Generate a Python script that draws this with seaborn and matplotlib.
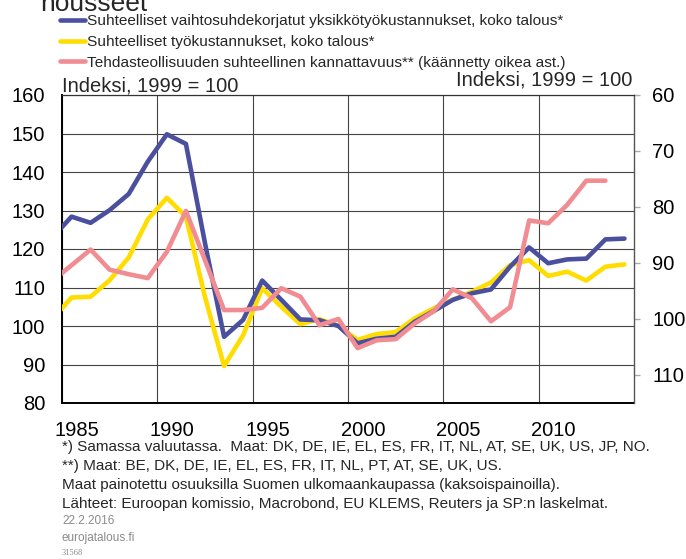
import numpy as np
import pandas as pd
import matplotlib
matplotlib.use("Agg")
import matplotlib.pyplot as plt
import seaborn as sns
from matplotlib.transforms import ScaledTranslation
from matplotlib.lines import Line2D

# ---- data ----
years = list(range(1984, 2015))
ulc_relative = [123.0, 128.4, 126.8, 130.1, 134.3, 142.7, 149.8, 147.3, 121.5, 97.2,
                101.6, 111.8, 106.8, 101.7, 101.5, 100.0, 95.5, 96.7, 97.2, 101.1,
                103.9, 106.8, 108.5, 109.5, 115.4, 120.4, 116.3, 117.3, 117.5, 122.5,
                122.7]
labour_cost_relative = [101.8, 107.4, 107.6, 111.9, 117.8, 127.7, 133.3, 128.4, 107.5, 89.6,
                        97.6, 109.8, 105.0, 100.5, 101.8, 100.0, 96.4, 97.9, 98.4, 102.0,
                        104.6, 106.8, 108.9, 111.3, 115.8, 117.1, 113.0, 114.1, 111.8, 115.4,
                        116.0]
profitability_inv = [93.2, 90.4, 87.6, 91.2, 92.0, 92.7, 88.0, 80.7, 89.5, 98.4,
                     98.4, 98.0, 94.5, 96.0, 101.1, 100.0, 105.2, 103.8, 103.6, 100.8,
                     98.6, 94.7, 96.3, 100.4, 97.9, 82.4, 82.9, 79.6, 75.3, 75.3,
                     np.nan]

series_labels = [
    "Suhteelliset vaihtosuhdekorjatut yksikkötyökustannukset, koko talous*",
    "Suhteelliset työkustannukset, koko talous*",
    "Tehdasteollisuuden suhteellinen kannattavuus** (käännetty oikea ast.)",
]
left_ticks = [80, 90, 100, 110, 120, 130, 140, 150, 160]
right_ticks = [60, 70, 80, 90, 100, 110]
x_ticks = [1985, 1990, 1995, 2000, 2005, 2010]

footnotes = [
    "*) Samassa valuutassa.  Maat: DK, DE, IE, EL, ES, FR, IT, NL, AT, SE, UK, US, JP, NO.",
    "**) Maat: BE, DK, DE, IE, EL, ES, FR, IT, NL, PT, AT, SE, UK, US.",
    "Maat painotettu osuuksilla Suomen ulkomaankaupassa (kaksoispainoilla).",
    "Lähteet: Euroopan komissio, Macrobond, EU KLEMS, Reuters ja SP:n laskelmat.",
]

df = pd.DataFrame({
    "x": [y + 0.5 for y in years],
    "blue": ulc_relative,
    "yellow": labour_cost_relative,
    "pink": profitability_inv,
})

sns.set_theme(style="white")
plt.rcParams["font.family"] = ["Liberation Sans", "DejaVu Sans"]

c_blue = "#4A509E"
c_yellow = "#FFDD00"
c_pink = "#F08C92"
lw = 3.3

fig = plt.figure(figsize=(6.86, 5.59), dpi=100)
ax = fig.add_axes([62/686, 1-403/559, (634-62)/686, (403-95)/559])
ax2 = ax.twinx()

sns.lineplot(data=df, x="x", y="yellow", ax=ax, color=c_yellow, lw=lw, zorder=3)
sns.lineplot(data=df, x="x", y="blue", ax=ax, color=c_blue, lw=lw, zorder=4)
sns.lineplot(data=df.dropna(), x="x", y="pink", ax=ax2, color=c_pink, lw=lw, zorder=3)

ax.set_xlim(1985, 2015)
ax.set_ylim(80, 160)
ax2.set_ylim(115, 60)
ax.set_xlabel("")
ax.set_ylabel("")
ax2.set_ylabel("")

ax.set_xticks(x_ticks)
ax.set_xticklabels([str(t) for t in x_ticks])
ax.set_yticks(left_ticks)
ax2.set_yticks(right_ticks)

ax.grid(True, color="#444444", lw=0.8)
ax.set_axisbelow(True)
ax2.grid(False)

ax.tick_params(axis="x", length=0, pad=13, labelsize=14.5, colors="black")
ax.tick_params(axis="y", length=0, pad=12, labelsize=14.5, colors="black")
ax2.tick_params(axis="y", length=4, width=1, color="#aaaaaa", pad=9, labelsize=14.5,
                labelcolor="black", direction="out")

offset = ScaledTranslation(15/100, 0, fig.dpi_scale_trans)
for lab in ax.get_xticklabels():
    lab.set_transform(lab.get_transform() + offset)

for sp in ["left", "bottom"]:
    ax.spines[sp].set_color("black")
    ax.spines[sp].set_linewidth(1.4)
for a in (ax, ax2):
    a.spines["top"].set_color("#333333")
    a.spines["top"].set_linewidth(0.8)
    a.spines["right"].set_color("#555555")
    a.spines["right"].set_linewidth(1.0)
ax2.spines["left"].set_visible(False)
ax2.spines["bottom"].set_visible(False)
ax.spines["right"].set_visible(False)

# titles / axis notes
fig.text(40/686, 1-11/559, "nousseet", fontsize=19, va="baseline", ha="left")
fig.text(62/686, 1-91/559, "Indeksi, 1999 = 100", fontsize=14.5, va="baseline", ha="left")
fig.text(632/686, 1-86/559, "Indeksi, 1999 = 100", fontsize=14.5, va="baseline", ha="right")

handles = [Line2D([], [], color=c, lw=lw) for c in (c_blue, c_yellow, c_pink)]
fig.legend(handles, series_labels, loc="upper left", bbox_to_anchor=(60/686, 1-14/559),
           frameon=False, fontsize=11.1, handlelength=1.6, handletextpad=0.13,
           labelspacing=0.45, borderpad=0, borderaxespad=0)

base = [451, 470, 489, 508]
for yb, t in zip(base, footnotes):
    fig.text(62/686, 1-yb/559, t, fontsize=11, va="baseline", ha="left")

fig.text(62/686, 1-524/559, "22.2.2016", fontsize=8.5, color="#8a8a8a", va="baseline")
fig.text(62/686, 1-541/559, "eurojatalous.fi", fontsize=8.5, color="#8a8a8a", va="baseline")
fig.text(62/686, 1-555/559, "31568", fontsize=6, color="#8a8a8a", va="baseline",
         family=["Liberation Serif", "DejaVu Serif"])

fig.savefig("out.png", dpi=100)
